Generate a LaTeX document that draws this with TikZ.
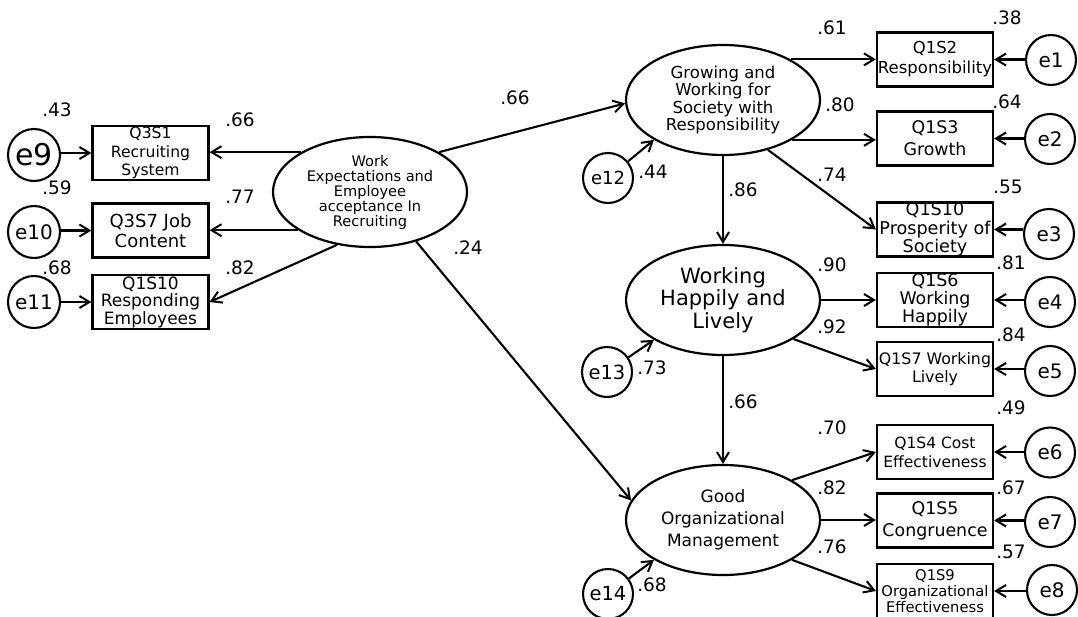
\documentclass[tikz,border=0pt]{standalone}
\usepackage{fontspec}
\setmainfont{DejaVu Sans}
\usetikzlibrary{shapes.geometric,arrows.meta}

\newcommand{\fs}[2]{\fontsize{#1}{#2}\selectfont}

\tikzset{
  lat/.style={ellipse, draw, line width=2.2pt, minimum width=194pt, minimum height=110pt,
              inner sep=0pt, align=center},
  ind/.style={draw, line width=2.2pt, minimum width=116pt, minimum height=54pt, inner sep=0pt},
  itext/.style={align=center, inner sep=0pt},
  err/.style={circle, draw, line width=2.1pt, minimum size=50pt, inner sep=0pt},
  coef/.style={font=\fs{18.5}{20}, inner sep=0pt},
  pth/.style={line width=2.1pt, -{Straight Barb[length=10pt,width=12pt,line width=2pt]}}
}

\begin{document}
\begin{tikzpicture}[x=1pt,y=-1pt]
\fill[white] (0,0) rectangle (1078,616);
\useasboundingbox (0,0) rectangle (1078,616);

% latent variables
\node[lat, font=\fs{14.6}{15}] (work) at (370,192)
  {Work\\Expectations and\\Employee\\acceptance In\\Recruiting};
\node[lat, font=\fs{16.5}{17.5}] (grow) at (723,100)
  {Growing and\\Working for\\Society with\\Responsibility};
\node[lat, font=\fs{21}{22.5}] (hap) at (723,300)
  {Working\\Happily and\\Lively};
\node[lat, font=\fs{17}{22}] (good) at (723,520)
  {Good\\Organizational\\Management};

% indicators, left block
\node[ind] (q3s1) at (150.5,153) {};
\node[itext, font=\fs{15.6}{18.3}] (q3s1t) at (q3s1) {Q3S1\\Recruiting\\System};
\node[ind] (q3s7) at (150.5,230.5) {};
\node[itext, font=\fs{18}{20}] (q3s7t) at (q3s7) {Q3S7 Job\\Content};
\node[ind] (q1s10r) at (150.5,302) {};
\node[itext, font=\fs{17}{17.5}] (q1s10rt) at (q1s10r) {Q1S10\\Responding\\Employees};

% indicators, right block
\node[ind] (q1s2) at (935,59.5) {};
\node[itext, font=\fs{16.5}{20}] (q1s2t) at (q1s2) {Q1S2\\Responsibility};
\node[ind] (q1s3) at (935,138.5) {};
\node[itext, font=\fs{17.4}{21.7}] (q1s3t) at (q1s3) {Q1S3\\Growth};
\node[ind] (q1s10p) at (935,229.5) {};
\node[itext, font=\fs{17.6}{18.3}] (q1s10pt) at (q1s10p) {Q1S10\\Prosperity of\\Society};
\node[ind] (q1s6) at (935,300) {};
\node[itext, font=\fs{17.4}{17.8}] (q1s6t) at (q1s6) {Q1S6\\Working\\Happily};
\node[ind] (q1s7) at (935,369) {};
\node[itext, font=\fs{15.8}{18.3}] (q1s7t) at (q1s7) {Q1S7 Working\\Lively};
\node[ind] (q1s4) at (935,452) {};
\node[itext, font=\fs{15.5}{19}] (q1s4t) at (q1s4) {Q1S4 Cost\\Effectiveness};
\node[ind] (q1s5) at (935,520.5) {};
\node[itext, font=\fs{17.4}{21.7}] (q1s5t) at (q1s5) {Q1S5\\Congruence};
\node[ind] (q1s9) at (935,591) {};
\node[itext, font=\fs{14.7}{15.8}] (q1s9t) at (q1s9) {Q1S9\\Organizational\\Effectiveness};

% error terms
\node[err, minimum size=52pt, font=\fs{30}{30}] (e9) at (34,155) {e9};
\node[err, minimum size=52pt, font=\fs{20}{20}] (e10) at (34,232) {e10};
\node[err, minimum size=52pt, font=\fs{20}{20}] (e11) at (34,302) {e11};
\node[err, font=\fs{20}{20}] (e1) at (1051,60) {e1};
\node[err, font=\fs{20}{20}] (e2) at (1050,139) {e2};
\node[err, font=\fs{20}{20}] (e3) at (1049,234) {e3};
\node[err, font=\fs{20}{20}] (e4) at (1050,302) {e4};
\node[err, font=\fs{20}{20}] (e5) at (1050,371) {e5};
\node[err, font=\fs{20}{20}] (e6) at (1050,452.5) {e6};
\node[err, font=\fs{20}{20}] (e7) at (1050,522) {e7};
\node[err, font=\fs{20}{20}] (e8) at (1052,590) {e8};
\node[err, font=\fs{18}{18}] (e12) at (608,178) {e12};
\node[err, font=\fs{19.5}{19.5}] (e13) at (607,372) {e13};
\node[err, font=\fs{19.5}{19.5}] (e14) at (608,594) {e14};

% error paths
\draw[pth] (e9.east |- q3s1.west) -- (q3s1.west);
\draw[pth] (e10.east |- q3s7.west) -- (q3s7.west);
\draw[pth] (e11.east |- q1s10r.west) -- (q1s10r.west);
\draw[pth] (e1.west |- q1s2.east) -- (q1s2.east);
\draw[pth] (e2.west |- q1s3.east) -- (q1s3.east);
\draw[pth] (e3.west |- q1s10p.east) -- (q1s10p.east);
\draw[pth] (e4.west |- q1s6.east) -- (q1s6.east);
\draw[pth] (e5.west |- q1s7.east) -- (q1s7.east);
\draw[pth] (e6.west |- q1s4.east) -- (q1s4.east);
\draw[pth] (e7.west |- q1s5.east) -- (q1s5.east);
\draw[pth] (e8.west |- q1s9.east) -- (q1s9.east);
\draw[pth] (e12) -- (grow.210);
\draw[pth] (e13) -- (hap.210);
\draw[pth] (e14) -- (good.210);

% loadings
\draw[pth] (work.150) -- (work.150 -| q3s1.east);
\draw[pth] (work.208.5) -- (work.208.5 -| q3s7.east);
\draw[pth] (work.238) -- (q1s10r.east);
\draw[pth] (grow.31) -- (grow.31 -| q1s2.west);
\draw[pth] (grow.-30.5) -- (grow.-30.5 -| q1s3.west);
\draw[pth] (grow.-48) -- (q1s10p.west);
\draw[pth] (hap.east) -- (hap.east -| q1s6.west);
\draw[pth] (hap.-29) -- (q1s7.west);
\draw[pth] (good.30) -- (q1s4.west);
\draw[pth] (good.east) -- (good.east -| q1s5.west);
\draw[pth] (good.-30) -- (q1s9.west);

% structural paths
\draw[pth] (work.30) -- (grow.182);
\draw[pth] (work.-47) -- (good.168);
\draw[pth] (grow.south) -- (hap.north);
\draw[pth] (hap.south) -- (good.north);

% coefficients
\node[coef] (c43) at (57,110) {.43};
\node[coef] (c66a) at (240,120) {.66};
\node[coef] (c59) at (57,188) {.59};
\node[coef] (c77) at (240,197) {.77};
\node[coef] (c68a) at (57,268) {.68};
\node[coef] (c82a) at (240,268) {.82};
\node[coef] (c66b) at (515,98) {.66};
\node[coef] (c24) at (468,248) {.24};
\node[coef] (c61) at (832,28) {.61};
\node[coef] (c38) at (1007,18) {.38};
\node[coef] (c80) at (840,105) {.80};
\node[coef] (c64) at (1007,102) {.64};
\node[coef] (c44) at (653,172) {.44};
\node[coef] (c86) at (743,190) {.86};
\node[coef] (c74) at (832,175) {.74};
\node[coef] (c55) at (1008,187) {.55};
\node[coef] (c90) at (832,265) {.90};
\node[coef] (c81) at (1011,263) {.81};
\node[coef] (c92) at (832,327) {.92};
\node[coef] (c84) at (1011,335) {.84};
\node[coef] (c73) at (652,368) {.73};
\node[coef] (c66c) at (743,402) {.66};
\node[coef] (c70) at (832,428) {.70};
\node[coef] (c49) at (1011,408) {.49};
\node[coef] (c82b) at (832,488) {.82};
\node[coef] (c67) at (1011,488) {.67};
\node[coef] (c76) at (832,547) {.76};
\node[coef] (c57) at (1011,552) {.57};
\node[coef] (c68b) at (652,585) {.68};
\end{tikzpicture}
\end{document}
